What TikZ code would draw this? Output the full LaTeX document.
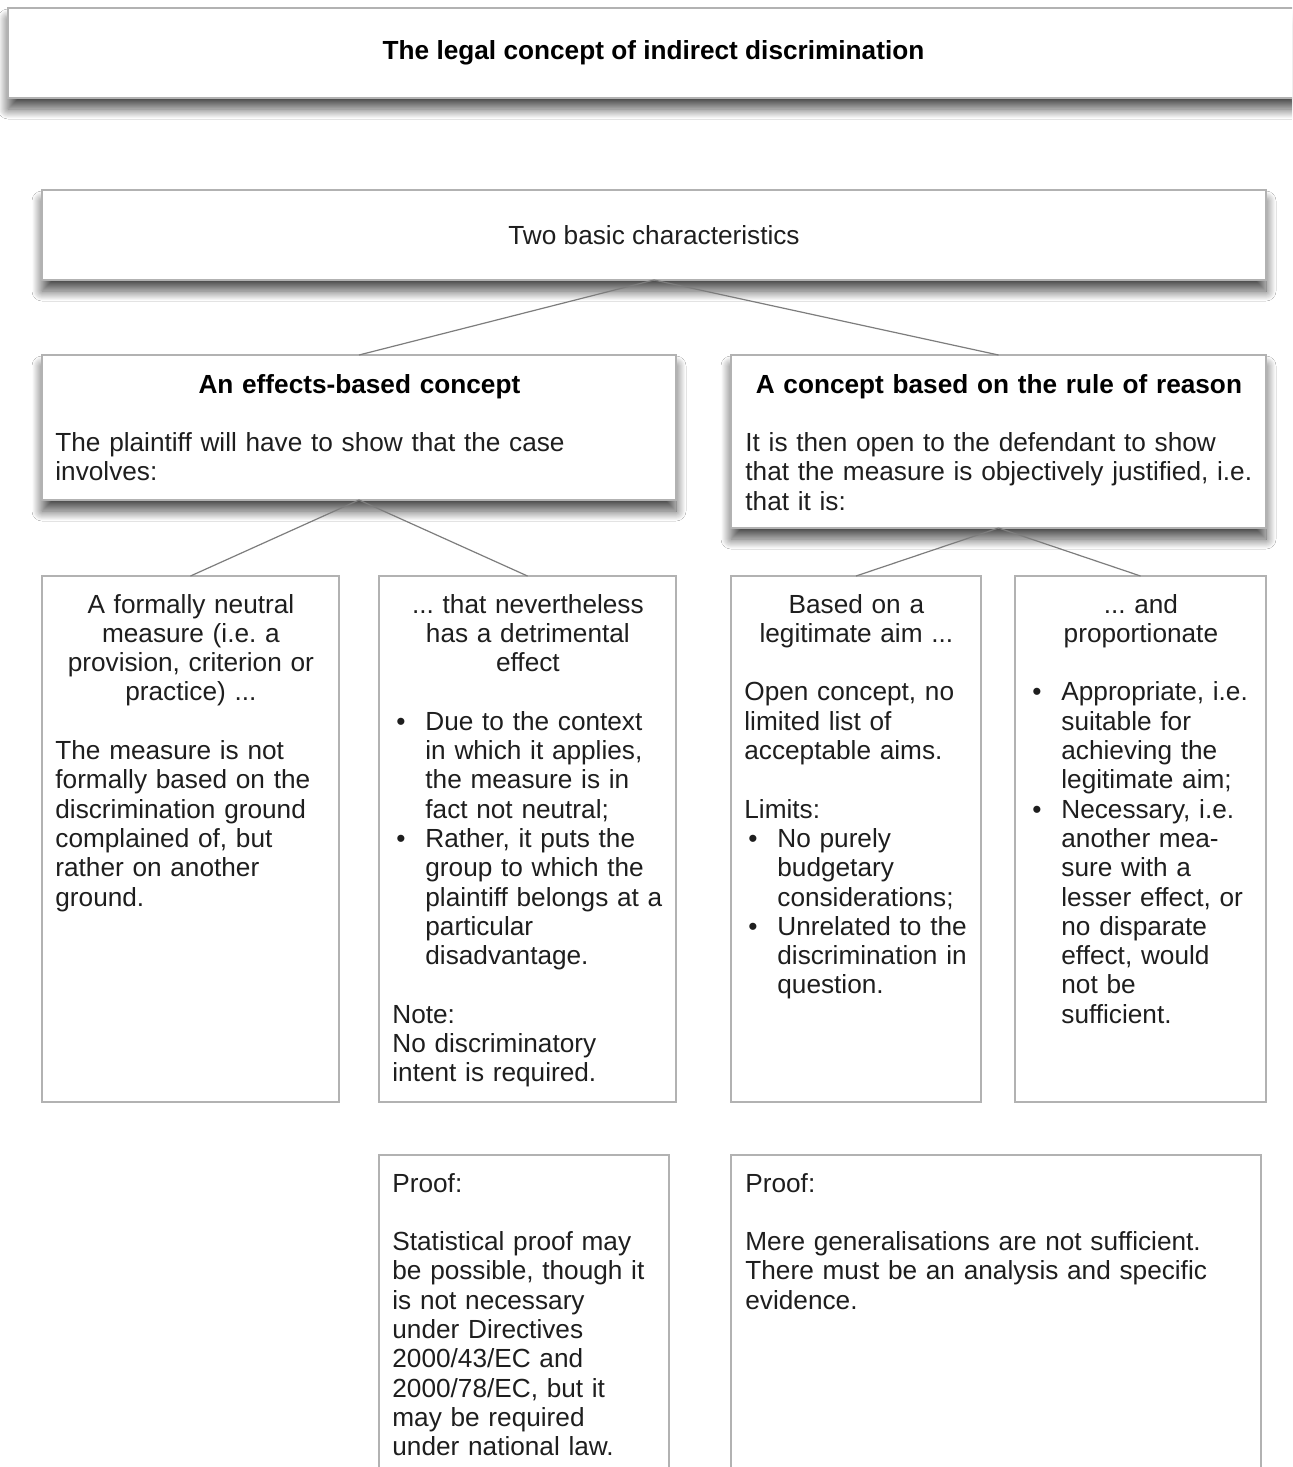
\documentclass[tikz,border=0pt]{standalone}
\usepackage{fontspec}
\setmainfont{Liberation Sans}
\usepackage{xcolor}
\usetikzlibrary{positioning,shadows.blur}

\definecolor{boxgray}{RGB}{178,178,178}
\definecolor{linkgray}{RGB}{125,125,125}
\definecolor{inkgray}{RGB}{30,30,30}

\newcommand{\bl}{\makebox[16.5pt][l]{\hspace{2pt}\textbullet}}
\newcommand{\ind}{\hspace*{16.5pt}}
\newcommand{\skipline}{\par\vspace{\baselineskip}}
\newcommand{\nowrap}{\rightskip=0pt plus 1fil minus 25pt}

\begin{document}
\begin{tikzpicture}[x=0.5pt,y=-0.5pt,
  every node/.style={font=\fontsize{13.1}{14.65}\selectfont\frenchspacing, text=inkgray},
  box/.style={draw=boxgray, line width=0.8pt, fill=white, inner sep=0pt, outer sep=0pt, anchor=north west},
  deep/.style={blur shadow={shadow xshift=0pt, shadow yshift=-5.5pt, shadow blur radius=5pt, shadow opacity=70, shadow blur steps=20}},
  txt/.style={anchor=base west, inner sep=0pt, align=left},
  link/.style={draw=linkgray, line width=0.6pt}]
\useasboundingbox (0,0) rectangle (1292,1467);
\fill[white] (0,0) rectangle (1292,1467);
\clip (0,0) rectangle (1292,1467);

% header boxes
\node[box, deep, minimum width=645.5pt, minimum height=45pt, text=black] (title) at (8,8) {\raisebox{-1.5pt}{\textbf{The legal concept of indirect discrimination}}};
\node[box, deep, minimum width=612pt, minimum height=45pt] (two) at (42,190) {Two basic characteristics};

% the two concepts
\node[box, deep, minimum width=317pt, minimum height=72.5pt] (effects) at (42,355) {};
\node[box, deep, minimum width=267.5pt, minimum height=86.5pt] (reason) at (731,355) {};
\node[txt, text width=304pt] at ([shift={(13,38)}]effects.north west)
  {{\centering\textbf{\color{black}An effects-based concept}\par}\skipline\nowrap
   The plaintiff will have to show that the case\\involves:};
\node[txt, text width=253.5pt] at ([shift={(14,38)}]reason.north west)
  {{\centering\textbf{\color{black}A concept based on the rule of reason}\par}\skipline\nowrap
   It is then open to the defendant to show\\that the measure is objectively justified, i.e.\\that it is:};

% the four elements
\node[box, minimum width=148.5pt, minimum height=263pt] (neutral) at (42,576) {};
\node[box, minimum width=148.5pt, minimum height=263pt] (detriment) at (379,576) {};
\node[box, minimum width=125pt, minimum height=263pt] (aim) at (731,576) {};
\node[box, minimum width=125.5pt, minimum height=263pt] (proportion) at (1015,576) {};

\node[txt, text width=135.5pt] at ([shift={(13,37)}]neutral.north west)
  {{\centering A formally neutral\\measure (i.e. a\\provision, criterion or\\practice) ...\par}\skipline\nowrap
   The measure is not\\formally based on the\\discrimination ground\\complained of, but\\rather on another\\ground.};
\node[txt, text width=135.5pt] at ([shift={(13,37)}]detriment.north west)
  {{\centering ... that nevertheless\\has a detrimental\\effect\par}\skipline\nowrap
   \bl Due to the context\\\ind in which it applies,\\\ind the measure is in\\\ind fact not neutral;\\
   \bl Rather, it puts the\\\ind group to which the\\\ind plaintiff belongs at a\\\ind particular\\\ind disadvantage.\skipline
   Note:\\No discriminatory\\intent is required.};
\node[txt, text width=112pt] at ([shift={(13,37)}]aim.north west)
  {{\centering Based on a\\legitimate aim ...\par}\skipline\nowrap
   Open concept, no\\limited list of\\acceptable aims.\skipline
   Limits:\\\bl No purely\\\ind budgetary\\\ind considerations;\\
   \bl Unrelated to the\\\ind discrimination in\\\ind question.};
\node[txt, text width=112.5pt] at ([shift={(13,37)}]proportion.north west)
  {{\centering ... and\\proportionate\par}\skipline\nowrap
   \bl Appropriate, i.e.\\\ind suitable for\\\ind achieving the\\\ind legitimate aim;\\
   \bl Necessary, i.e.\\\ind another mea-\\\ind sure with a\\\ind lesser effect, or\\\ind no disparate\\\ind effect, would\\\ind not be\\\ind sufficient.};

% proof
\node[box, minimum width=145pt, minimum height=200pt] (proofL) at (379,1155) {};
\node[box, minimum width=265pt, minimum height=200pt] (proofR) at (731,1155) {};
\node[txt, text width=132pt] at ([shift={(13,37)}]proofL.north west)
  {\nowrap Proof:\skipline
   Statistical proof may\\be possible, though it\\is not necessary\\under Directives\\2000/43/EC and\\2000/78/EC, but it\\may be required\\under national law.};
\node[txt, text width=252pt] at ([shift={(14,37)}]proofR.north west)
  {\nowrap Proof:\skipline
   Mere generalisations are not sufficient.\\There must be an analysis and specific\\evidence.};

% connectors
\draw[link] (two.south) -- (effects.north);
\draw[link] (two.south) -- (reason.north);
\draw[link] (effects.south) -- (neutral.north);
\draw[link] (effects.south) -- (detriment.north);
\draw[link] (reason.south) -- (aim.north);
\draw[link] (reason.south) -- (proportion.north);
\end{tikzpicture}
\end{document}
